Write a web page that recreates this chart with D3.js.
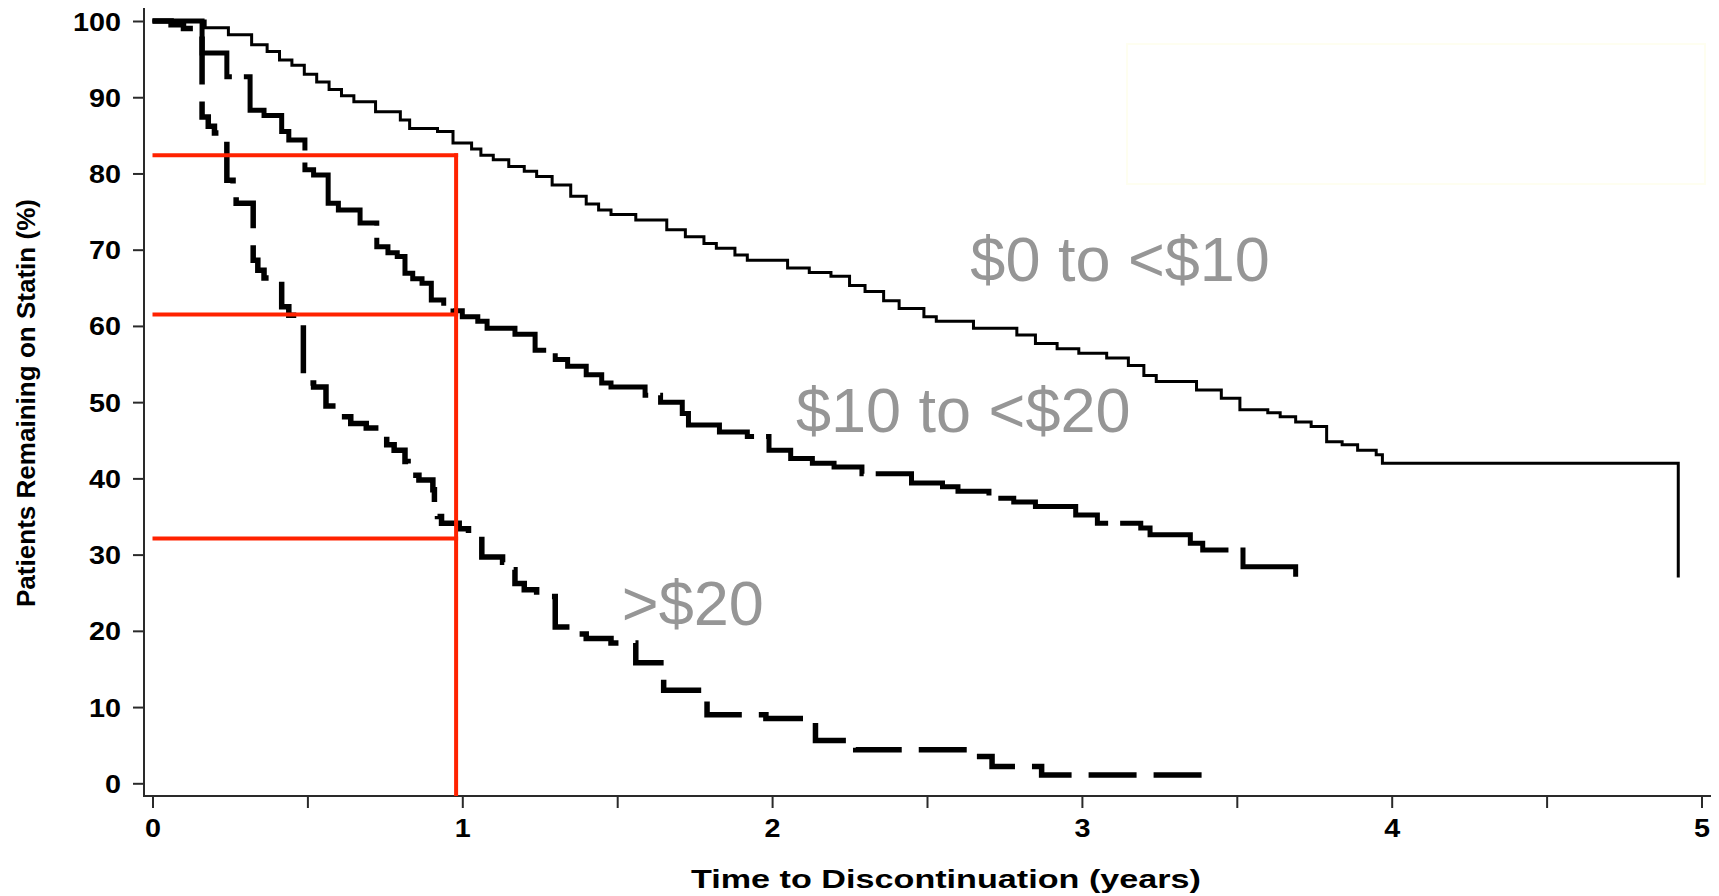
<!DOCTYPE html>
<html><head><meta charset="utf-8">
<script src="https://cdn.jsdelivr.net/npm/d3@7"></script>
<style>html,body{margin:0;padding:0;background:#fff;} svg{display:block;}</style>
</head><body>
<svg id="chart" width="1719" height="896"></svg>
<script>
// ---------- data ----------
const yTicks = [0,10,20,30,40,50,60,70,80,90,100];
const xTicks = [0,0.5,1,1.5,2,2.5,3,3.5,4,4.5,5];
const xTickLabels = ["0","","1","","2","","3","","4","","5"];

const tier1Time = [0,0.17,0.245,0.32,0.37,0.41,0.45,0.49,0.53,0.57,0.61,0.65,0.72,0.80,0.83,0.92,0.97,1.03,1.06,1.10,1.15,1.20,1.24,1.29,1.35,1.40,1.44,1.48,1.56,1.66,1.72,1.78,1.82,1.88,1.92,2.05,2.12,2.19,2.25,2.30,2.36,2.41,2.49,2.53,2.65,2.79,2.85,2.92,2.99,3.08,3.15,3.20,3.24,3.37,3.45,3.51,3.60,3.64,3.69,3.74,3.79,3.84,3.89,3.95,3.97,4.925];
const tier1Surv = [100,99.1,98.2,96.9,96.0,94.9,94.2,93.0,92.0,91.0,90.2,89.4,88.1,87.0,85.9,85.5,84.0,83.2,82.4,81.8,80.9,80.3,79.6,78.5,77.0,76.0,75.2,74.6,73.9,72.6,71.7,70.8,70.2,69.3,68.6,67.6,67.0,66.5,65.3,64.5,63.3,62.3,61.2,60.6,59.7,58.8,57.7,57.0,56.4,55.8,54.8,53.5,52.7,51.6,50.5,49.0,48.6,48.1,47.4,46.8,44.8,44.4,43.7,43.1,42.0,27.0];

const tier2Time = [0,0.16,0.24,0.315,0.36,0.417,0.44,0.492,0.52,0.567,0.60,0.67,0.724,0.76,0.79,0.815,0.84,0.87,0.90,0.94,0.97,1.00,1.05,1.08,1.17,1.235,1.30,1.34,1.40,1.45,1.48,1.59,1.64,1.71,1.73,1.83,1.92,1.99,2.06,2.13,2.20,2.29,2.45,2.55,2.60,2.70,2.78,2.85,2.98,3.05,3.19,3.22,3.35,3.39,3.52,3.69];
const tier2Surv = [100,95.8,92.7,88.3,87.6,85.5,84.4,80.5,79.8,76.1,75.2,73.5,70.4,69.6,69.1,66.9,66.2,65.6,63.4,62.6,62.0,61.2,60.6,59.7,58.9,56.8,55.6,54.7,53.6,52.5,52.0,50.9,50.0,48.5,47.0,46.1,45.5,43.7,42.6,42.0,41.5,40.6,39.4,38.9,38.3,37.4,36.9,36.3,35.2,34.1,33.5,32.6,31.5,30.6,28.4,27.1];

const tier3Time = [0,0.06,0.10,0.16,0.18,0.20,0.24,0.26,0.27,0.325,0.34,0.36,0.417,0.44,0.487,0.52,0.56,0.60,0.64,0.69,0.73,0.756,0.78,0.815,0.825,0.86,0.905,0.91,0.92,0.933,0.99,1.02,1.063,1.13,1.149,1.17,1.20,1.24,1.30,1.35,1.40,1.48,1.56,1.65,1.79,1.98,2.14,2.27,2.63,2.71,2.87,3.40];
const tier3Surv = [100,99.5,99.0,87.4,86.2,85.3,79.1,77.6,76.1,68.6,67.3,66.3,62.5,61.4,52.5,52.0,49.5,48.1,47.2,46.6,45.7,44.4,43.7,42.2,40.4,39.8,38.5,36.8,35.0,34.1,33.4,32.7,29.7,29.0,28.0,26.2,25.4,24.5,20.5,19.6,19.0,18.4,15.8,12.2,9.0,8.5,5.6,4.4,3.5,2.2,1.1,0.4];

const seriesNames = ["$0 to <$10", "$10 to <$20", ">$20"];
const labelTime = [2.64, 2.077, 1.515];
const labelSurv = [65.9, 46.1, 20.8];

const refTime = 0.98;
const refLevels = [82.4, 61.5, 32.1];

const xTitle = "Time to Discontinuation (years)";
const yTitle = "Patients Remaining on Statin (%)";

// ---------- layout ----------
const svg = d3.select("#chart");
const x = d3.scaleLinear().domain([0,5]).range([152.5,1701.5]);
const y = d3.scaleLinear().domain([0,100]).range([783.3,21]);
const axisX = 144, axisY = 796;
const axisColor = "#2a2a2a";
const tickFont = "'Liberation Sans', Arial, sans-serif";

// faint box (top right)
svg.append("rect").attr("x",1127).attr("y",44).attr("width",578).attr("height",140)
  .attr("fill","none").attr("stroke","#fefef0").attr("stroke-width",2);

// axes
const yAxis = svg.append("g").attr("transform",`translate(${axisX},0)`)
  .call(d3.axisLeft(y).tickValues(yTicks).tickSize(11).tickPadding(0));
yAxis.select(".domain").remove();
yAxis.selectAll(".tick line").attr("stroke",axisColor).attr("stroke-width",2);
yAxis.selectAll(".tick text")
  .attr("x",-20).attr("dy","0.36em")
  .attr("transform","scale(1.15,1)")
  .style("font-family",tickFont).style("font-weight","bold").style("font-size","25px").attr("fill","#000");

const xAxis = svg.append("g").attr("transform",`translate(0,${axisY})`)
  .call(d3.axisBottom(x).tickValues(xTicks).tickSize(12).tickPadding(11)
    .tickFormat((d,i)=>xTickLabels[i]));
xAxis.select(".domain").remove();
xAxis.selectAll(".tick line").attr("stroke",axisColor).attr("stroke-width",2);
xAxis.selectAll(".tick text")
  .attr("transform","scale(1.15,1)")
  .style("font-family",tickFont).style("font-weight","bold").style("font-size","25px").attr("fill","#000");

svg.append("line").attr("x1",axisX).attr("x2",axisX).attr("y1",8).attr("y2",axisY+1)
  .attr("stroke",axisColor).attr("stroke-width",2);
svg.append("line").attr("x1",axisX-1).attr("x2",1711).attr("y1",axisY).attr("y2",axisY)
  .attr("stroke",axisColor).attr("stroke-width",2);

// titles
svg.append("text").attr("x",946).attr("y",888).attr("text-anchor","middle")
  .attr("textLength",510).attr("lengthAdjust","spacingAndGlyphs")
  .style("font-family",tickFont).style("font-weight","bold").style("font-size","26px")
  .text(xTitle);
svg.append("text").attr("transform","translate(35,403) rotate(-90)").attr("text-anchor","middle")
  .attr("textLength",408).attr("lengthAdjust","spacingAndGlyphs")
  .style("font-family",tickFont).style("font-weight","bold").style("font-size","26px")
  .text(yTitle);

// curves
const line = d3.line().x(d=>x(d.t)).y(d=>y(d.s)).curve(d3.curveStepAfter);
const mk = (T,S) => T.map((t,i)=>({t:t,s:S[i]}));
const series = [
  {data: mk(tier1Time,tier1Surv), w:3, dash:null},
  {data: mk(tier2Time,tier2Surv), w:5, dash:"135,12"},
  {data: mk(tier3Time,tier3Surv), w:5.5, dash:"48,17"}
];
series.forEach(s=>{
  svg.append("path").attr("d",line(s.data)).attr("fill","none")
    .attr("stroke","#000").attr("stroke-width",s.w)
    .attr("stroke-dasharray",s.dash)
    .attr("stroke-linejoin","miter").attr("stroke-linecap","butt");
});

// series labels
seriesNames.forEach((n,i)=>{
  svg.append("text").attr("x",x(labelTime[i])).attr("y",y(labelSurv[i]))
    .style("font-family",tickFont).style("font-size","63px").attr("fill","#969696")
    .text(n);
});

// red reference lines
const red = "#ff2200";
refLevels.forEach(v=>{
  svg.append("line").attr("x1",x(0)).attr("x2",x(refTime)+2).attr("y1",y(v)).attr("y2",y(v))
    .attr("stroke",red).attr("stroke-width",4);
});
svg.append("line").attr("x1",x(refTime)).attr("x2",x(refTime))
  .attr("y1",y(d3.max(refLevels))-2).attr("y2",axisY)
  .attr("stroke",red).attr("stroke-width",4);
</script>
</body></html>
